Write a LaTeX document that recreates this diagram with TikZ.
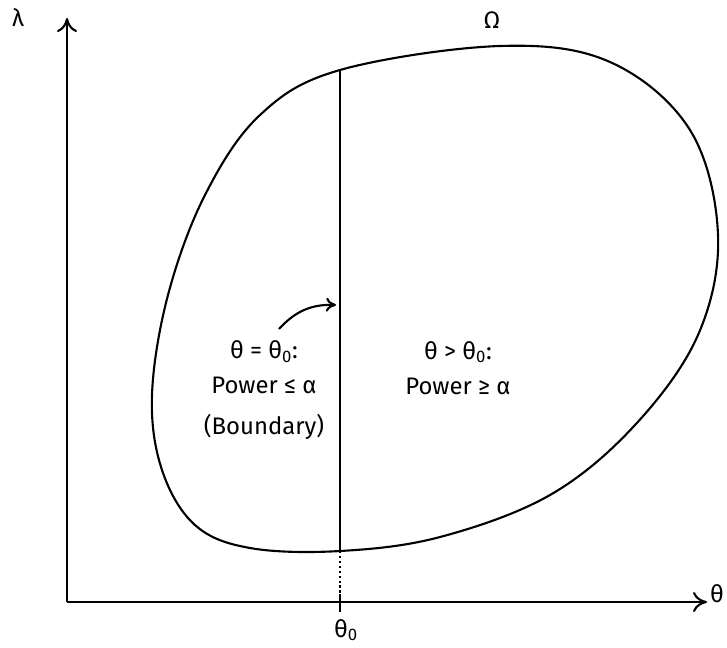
\documentclass[tikz,border=0pt]{standalone}
\usepackage{fontspec}
\setmainfont{Fira Sans}
\usepackage{tikz}
\usetikzlibrary{arrows.meta,calc}

\begin{document}
\begin{tikzpicture}[x=0.025cm, y=-0.025cm,
    axis/.style={line width=1.5pt, -{To[length=3.5mm, width=5mm]}},
    lbl/.style={font=\fontsize{17}{25}\selectfont, align=center, inner sep=1pt},
    region/.style={line width=1.5pt, line join=round}
]
    \useasboundingbox (0,0) rectangle (727,647);

    % axes
    \coordinate (o) at (67,602);
    \coordinate (ytop) at (67,18);
    \coordinate (xend) at (707,602);
    \draw[axis] (o) -- (ytop);
    \draw[axis] (o) -- (xend);
    \node[lbl] (lam) at (18,18) {λ};
    \node[lbl] (th) at (717,594) {θ};

    % parameter space
    \draw[region] plot[smooth cycle, tension=0.6] coordinates {
        (340,70) (500,46) (610,62) (690,130) (718,235) (698,335)
        (635,425) (550,495) (440,537) (340,551) (250,548) (195,525)
        (162,470) (152,395) (168,295) (205,195) (260,115)};
    \node[lbl] (om) at (492,20) {Ω};

    % boundary theta = theta_0
    \coordinate (top) at (340,70);
    \coordinate (bot) at (340,551);
    \coordinate (tick) at (340,602);
    \draw[line width=1.5pt] (top) -- (bot);
    \draw[line width=1.5pt, dotted] (bot) -- (tick);
    \draw[line width=1.5pt] ($(tick)+(0,-8)$) -- ($(tick)+(0,10)$);
    \node[lbl] (t0) at (346,630) {θ\textsubscript{0}};

    % labels
    \node[lbl] (left) at (264,390) {θ = θ\textsubscript{0}:\\ Power ≤ α\\[4pt] (Boundary)};
    \node[lbl] (right) at (458,368) {θ > θ\textsubscript{0}:\\ Power ≥ α};
    \coordinate (tip) at (336,305);
    \draw[line width=1.5pt, -{To[length=2.5mm, width=3.5mm]}] (279,329) to[bend left=25] (tip);
\end{tikzpicture}
\end{document}
